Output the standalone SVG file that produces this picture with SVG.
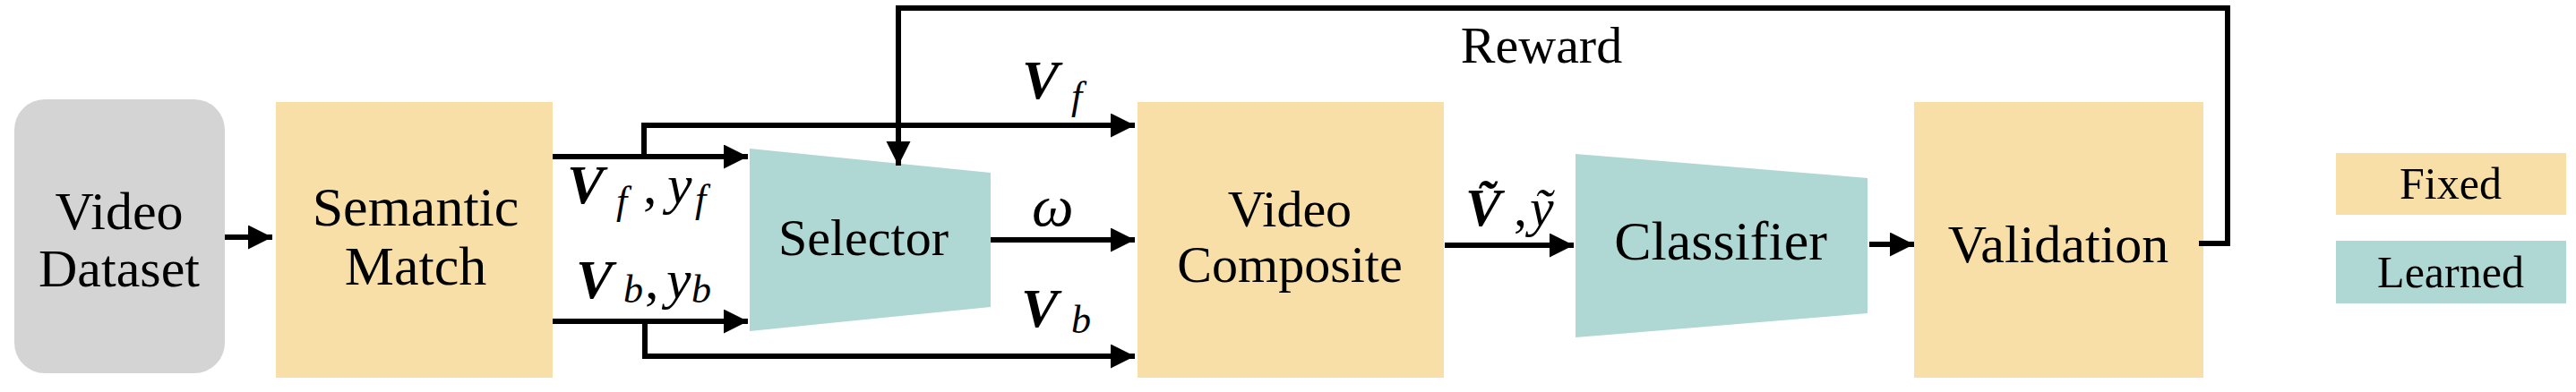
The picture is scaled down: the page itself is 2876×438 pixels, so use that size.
<svg xmlns="http://www.w3.org/2000/svg" width="2876" height="438" viewBox="0 0 2876 438">
<style>
.fixed{fill:#f7dfa7}
.learned{fill:#afd7d3}
.gray{fill:#d4d4d4}
.lbl{fill:#000;text-anchor:middle}
.m{fill:#000;font-style:italic}
.bi{font-weight:bold;font-style:italic}
.conn{fill:none;stroke:#000;stroke-width:6}
</style>
<defs>
<marker id="ah" markerUnits="userSpaceOnUse" markerWidth="28" markerHeight="28" refX="27" refY="13.5" orient="auto">
<path d="M0,0 L27,13.5 L0,27 z" fill="#000"/>
</marker>
</defs>

<g font-family="Liberation Serif, Times New Roman, Tinos, DejaVu Serif, Noto Serif, serif">
<g id="video-dataset">
<rect class="gray" x="16" y="111" width="235" height="306" rx="34" ry="34"/>
<text class="lbl" x="133" y="256" font-size="60">Video</text>
<text class="lbl" x="133" y="320" font-size="60">Dataset</text>
</g>

<g id="semantic-match">
<rect class="fixed" x="308" y="114" width="309" height="308"/>
<text class="lbl" x="464" y="252" font-size="62">Semantic</text>
<text class="lbl" x="464" y="318" font-size="62">Match</text>
</g>

<g id="selector">
<polygon class="learned" points="837,166 1106,193 1106,343 837,370"/>
<text class="lbl" x="964" y="285" font-size="58">Selector</text>
</g>

<g id="video-composite">
<rect class="fixed" x="1270" y="114" width="342" height="308"/>
<text class="lbl" x="1440" y="253" font-size="58">Video</text>
<text class="lbl" x="1440" y="315" font-size="58">Composite</text>
</g>

<g id="classifier">
<polygon class="learned" points="1759,172 2085,199 2085,350 1759,377"/>
<text class="lbl" x="1921" y="290" font-size="62">Classifier</text>
</g>

<g id="validation">
<rect class="fixed" x="2137" y="114" width="323" height="308"/>
<text class="lbl" x="2298" y="293" font-size="60">Validation</text>
</g>

<g id="legend-fixed">
<rect class="fixed" x="2608" y="171" width="257" height="69"/>
<text class="lbl" x="2736" y="222" font-size="50">Fixed</text>
</g>

<g id="legend-learned">
<rect class="learned" x="2608" y="269" width="257" height="70"/>
<text class="lbl" x="2736" y="321" font-size="50">Learned</text>
</g>

<g id="connectors">
<path class="conn" d="M251,265 H304" marker-end="url(#ah)"/>
<path class="conn" d="M617,175 H835" marker-end="url(#ah)"/>
<path class="conn" d="M719,175 V140 H1267" marker-end="url(#ah)"/>
<path class="conn" d="M617,359 H835" marker-end="url(#ah)"/>
<path class="conn" d="M720,359 V398 H1267" marker-end="url(#ah)"/>
<path class="conn" d="M1106,268 H1267" marker-end="url(#ah)"/>
<path class="conn" d="M1613,274 H1757" marker-end="url(#ah)"/>
<path class="conn" d="M2087,273 H2137" marker-end="url(#ah)"/>
<path class="conn" d="M2455,272 H2487 V9 H1003 V185" marker-end="url(#ah)"/>

<text class="lbl" x="1721" y="70" font-size="58">Reward</text>

<text class="m" y="227" font-size="62"><tspan class="bi" x="633">V</tspan><tspan x="688" dy="12" font-size="44">f</tspan><tspan x="718" dy="-12" font-style="normal">,</tspan><tspan x="745">y</tspan><tspan x="776" dy="10" font-size="44">f</tspan></text>
<text class="m" y="333" font-size="62"><tspan class="bi" x="643">V</tspan><tspan x="696" dy="5" font-size="44">b</tspan><tspan x="720" dy="-5" font-style="normal">,</tspan><tspan x="744">y</tspan><tspan x="772" dy="5" font-size="44">b</tspan></text>

<text class="m" y="110" font-size="62"><tspan class="bi" x="1141">V</tspan><tspan x="1196" dy="12" font-size="44">f</tspan></text>
<text class="m" x="1152" y="252" font-size="66">ω</text>
<text class="m" y="365" font-size="62"><tspan class="bi" x="1140">V</tspan><tspan x="1196" dy="7" font-size="44">b</tspan></text>

<text class="m" y="252" font-size="60"><tspan class="bi" x="1636">Ṽ</tspan><tspan x="1690" font-style="normal">,</tspan><tspan x="1708">ỹ</tspan></text>
</g>
</g>
</svg>
